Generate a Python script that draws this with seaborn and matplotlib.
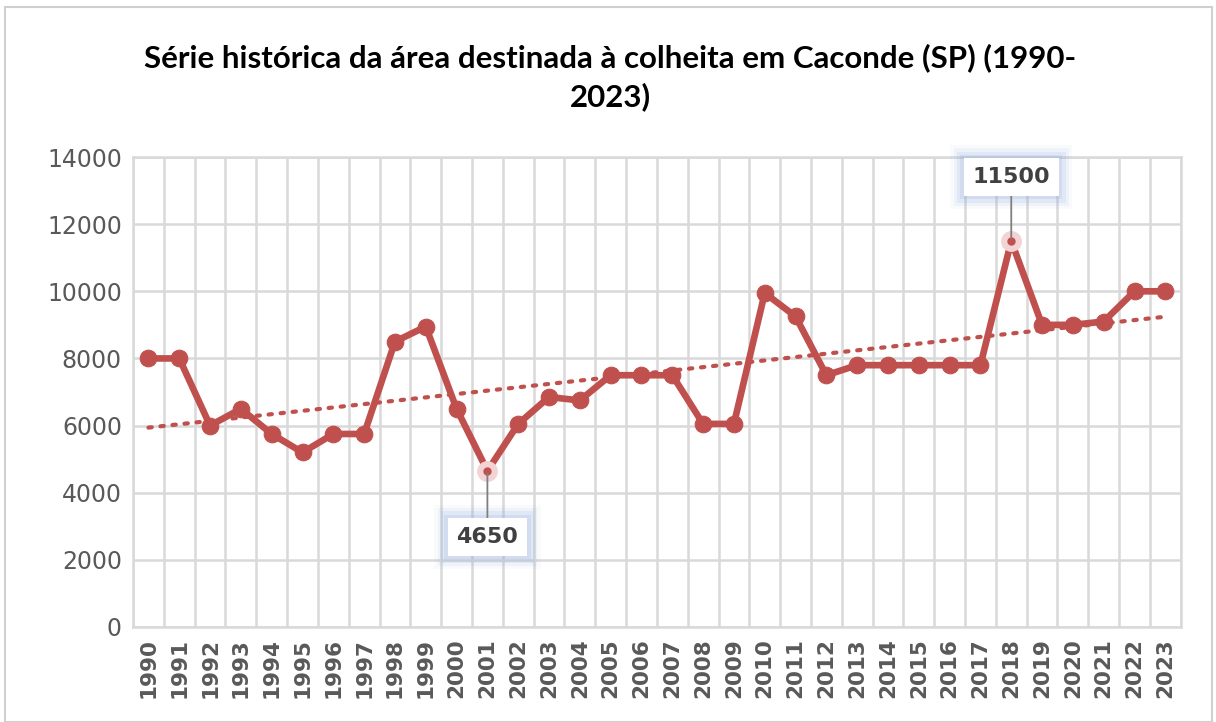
import numpy as np
import pandas as pd
import matplotlib
matplotlib.use('Agg')
import matplotlib.pyplot as plt
import seaborn as sns
from matplotlib.patches import Rectangle

# dados
anos = list(range(1990, 2024))
area = [8000, 8000, 6000, 6500, 5750, 5200, 5750, 5750, 8500, 8950,
        6500, 4650, 6050, 6850, 6750, 7500, 7500, 7500, 6050, 6050,
        9950, 9250, 7500, 7800, 7800, 7800, 7800, 7800, 11500, 9000,
        9000, 9100, 10000, 10000]
destaques = [2001, 2018]
y_ticks = [0, 2000, 4000, 6000, 8000, 10000, 12000, 14000]
titulo = 'Série histórica da área destinada à colheita em Caconde (SP) (1990-\n2023)'

cor = '#c0504d'
cinza_grade = '#d9d9d9'

sns.set_style('white')
plt.rcParams['font.family'] = ['DejaVu Sans']

df = pd.DataFrame({'ano': anos, 'area': area})
df['pos'] = np.arange(len(df))

fig = plt.figure(figsize=(12.16, 7.22), dpi=100)
ax = fig.add_axes([0.1094, 0.1316, 0.8616, 0.6509])

# borda externa
fig.patches.append(Rectangle((0.004, 0.0), 0.993, 0.99, transform=fig.transFigure,
                             fill=False, ec='#d0d0d0', lw=1.5))

# linha de tendencia
coef = np.polyfit(df['pos'], df['area'], 1)
ax.plot(df['pos'], np.polyval(coef, df['pos']), ls=(0, (0.8, 2.1)), lw=3,
        color=cor, dash_capstyle='round', zorder=2)

sns.lineplot(data=df, x='pos', y='area', ax=ax, color=cor, lw=4.8,
             marker='o', markersize=12, markeredgecolor=cor, zorder=3)

# pontos destacados
for a in destaques:
    r = df[df['ano'] == a].iloc[0]
    ax.plot(r['pos'], r['area'], 'o', ms=14, color='#f3d3d3', mec='#f3d3d3', zorder=4)
    ax.plot(r['pos'], r['area'], 'o', ms=5, color=cor, mec=cor, zorder=5)

# rotulos com brilho azul
rotulos = {2001: 2680, 2018: 13400}
for a, ty in rotulos.items():
    r = df[df['ano'] == a].iloc[0]
    txt = str(int(r['area']))
    for pad, alpha in [(1.0, 0.06), (0.85, 0.09), (0.7, 0.13), (0.55, 0.18)]:
        ax.text(r['pos'], ty, txt, ha='center', va='center', fontsize=16,
                fontweight='bold', color='none', zorder=5,
                bbox=dict(boxstyle=f'square,pad={pad}', fc='#8eaadb', ec='none', alpha=alpha))
    ax.annotate(txt, xy=(r['pos'], r['area']), xytext=(r['pos'], ty),
                ha='center', va='center', fontsize=16, fontweight='bold', color='#404040',
                bbox=dict(boxstyle='square,pad=0.4', fc='white', ec='none'),
                arrowprops=dict(arrowstyle='-', color='#7f7f7f', lw=1.3,
                                shrinkA=0, shrinkB=2), zorder=6)

ax.set_xlim(-0.5, len(df) - 0.5)
ax.set_ylim(0, 14000)
ax.set_yticks(y_ticks)
ax.set_yticklabels([str(v) for v in y_ticks], fontsize=17, color='#595959')
ax.set_xticks(df['pos'])
ax.set_xticklabels([str(a) for a in anos], rotation=90, fontsize=15.5,
                   fontweight='bold', color='#595959')
ax.set_xticks(np.arange(-0.5, len(df)), minor=True)
ax.grid(which='minor', axis='x', color=cinza_grade, lw=1.8)
ax.grid(which='major', axis='y', color=cinza_grade, lw=1.8)
ax.tick_params(axis='both', which='both', length=0, pad=8)
ax.set_xlabel('')
ax.set_ylabel('')
for s in ax.spines.values():
    s.set_color(cinza_grade)
    s.set_linewidth(1.8)

fig.text(0.502, 0.893, titulo, ha='center', va='center', fontsize=22.5,
         fontweight='bold', color='black', family=['Lato', 'DejaVu Sans'],
         linespacing=1.45)

fig.savefig('out.png', dpi=100)
